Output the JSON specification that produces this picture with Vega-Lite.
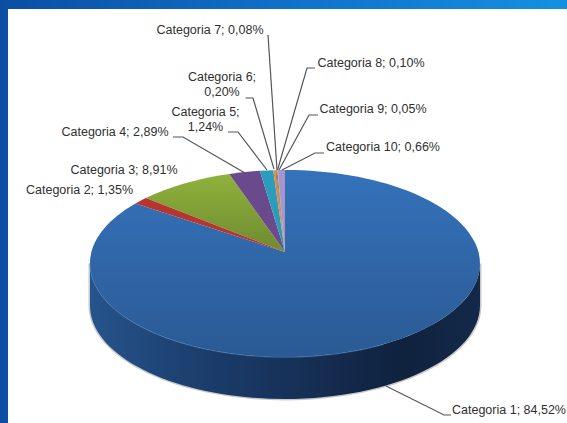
{
"$schema":"https://vega.github.io/schema/vega-lite/v6.json",
"width":567,"height":423,"padding":0,"autosize":"none",
"background":"#ffffff",
"config":{"view":{"stroke":null}},
"data":{"values":[
{"category":"Categoria 1","value":84.52,"label":"Categoria 1; 84,52%"},
{"category":"Categoria 2","value":1.35,"label":"Categoria 2; 1,35%"},
{"category":"Categoria 3","value":8.91,"label":"Categoria 3; 8,91%"},
{"category":"Categoria 4","value":2.89,"label":"Categoria 4; 2,89%"},
{"category":"Categoria 5","value":1.24,"label":"Categoria 5;\n1,24%"},
{"category":"Categoria 6","value":0.20,"label":"Categoria 6;\n0,20%"},
{"category":"Categoria 7","value":0.08,"label":"Categoria 7; 0,08%"},
{"category":"Categoria 8","value":0.10,"label":"Categoria 8; 0,10%"},
{"category":"Categoria 9","value":0.05,"label":"Categoria 9; 0,05%"},
{"category":"Categoria 10","value":0.66,"label":"Categoria 10; 0,66%"}
]},
"transform":[
{"window":[{"op":"sum","field":"value","as":"cum"}],"frame":[null,0]},
{"calculate":"(datum.cum-datum.value)/100*2*PI","as":"a0"},
{"calculate":"datum.cum/100*2*PI","as":"a1"},
{"calculate":"round((193.5*sin(datum.a0)/(1+0.123*cos(datum.a0))+1.5)*100)/100","as":"x0"},
{"calculate":"round((-92*cos(datum.a0)/(1+0.123*cos(datum.a0))+40.5)*100)/100","as":"y0"},
{"calculate":"round((193.5*sin(datum.a1)/(1+0.123*cos(datum.a1))+1.5)*100)/100","as":"x1"},
{"calculate":"round((-92*cos(datum.a1)/(1+0.123*cos(datum.a1))+40.5)*100)/100","as":"y1"},
{"calculate":"'M1.5,40.5L'+datum.x0+','+datum.y0+'A195,93.5,0,'+(datum.a1-datum.a0>PI?1:0)+',1,'+datum.x1+','+datum.y1+'Z'","as":"wedge"},
{"calculate":"{'Categoria 1':509,'Categoria 2':79.5,'Categoria 3':124,'Categoria 4':115,'Categoria 5':205.5,'Categoria 6':222,'Categoria 7':210,'Categoria 8':371,'Categoria 9':373,'Categoria 10':383}[datum.category]","as":"labelPosX"},
{"calculate":"{'Categoria 1':410,'Categoria 2':190,'Categoria 3':170,'Categoria 4':132,'Categoria 5':112,'Categoria 6':77,'Categoria 7':30,'Categoria 8':63,'Categoria 9':109,'Categoria 10':147}[datum.category]","as":"labelPosY"}
],
"layer":[
{"transform":[{"filter":"datum.category==='Categoria 1'"}],
 "mark":{"type":"rect","fill":{"gradient":"linear","x1":0,"x2":1,"y1":0,"y2":0,"stops":[{"offset":0,"color":"#0a4fa3"},{"offset":0.5,"color":"#1070c8"},{"offset":1,"color":"#1590e0"}]}},
 "encoding":{}},
{"transform":[{"filter":"datum.category==='Categoria 1'"}],
 "mark":{"type":"point","filled":true,"opacity":1,"fill":"#ffffff","size":4,"shape":"M-275.5,-202.5H283.5V211.5H-275.5Z"},
 "encoding":{}},
{"transform":[{"filter":"datum.category==='Categoria 1'"}],
 "mark":{"type":"point","filled":false,"opacity":0.45,"stroke":"#8a8a8a","strokeWidth":3,"size":4,"shape":"M-193.5,52A195,93.5,0,0,0,196.5,52L196.5,94A195,93.5,0,0,1,-193.5,94Z"},
 "encoding":{}},
{"transform":[{"filter":"datum.category==='Categoria 1'"}],
 "mark":{"type":"point","filled":true,"opacity":1,"size":4,"shape":"M-193.5,52A195,93.5,0,0,0,196.5,52L196.5,94A195,93.5,0,0,1,-193.5,94Z",
  "fill":{"gradient":"linear","x1":0,"x2":1,"y1":0,"y2":0,"stops":[{"offset":0,"color":"#26548c"},{"offset":0.25,"color":"#1c4070"},{"offset":0.55,"color":"#162f55"},{"offset":0.8,"color":"#0f223e"},{"offset":1,"color":"#14294a"}]}},
 "encoding":{}},
{"transform":[{"filter":"datum.category==='Categoria 1'"}],
 "mark":{"type":"point","filled":true,"opacity":1,"size":4,
  "fill":{"gradient":"linear","x1":0,"x2":0,"y1":0,"y2":1,"stops":[{"offset":0,"color":"#3572bb"},{"offset":1,"color":"#2a5a94"}]}},
 "encoding":{"shape":{"field":"wedge","type":"nominal","scale":null,"legend":null}}},
{"transform":[{"filter":"datum.category==='Categoria 3'"}],
 "mark":{"type":"point","filled":true,"opacity":1,"size":4,
  "fill":{"gradient":"linear","x1":0,"x2":0,"y1":0,"y2":1,"stops":[{"offset":0,"color":"#90b23c"},{"offset":1,"color":"#6e8a30"}]}},
 "encoding":{"shape":{"field":"wedge","type":"nominal","scale":null,"legend":null}}},
{"transform":[{"filter":"datum.category!=='Categoria 1'&&datum.category!=='Categoria 3'"}],
 "mark":{"type":"point","filled":true,"opacity":1,"size":4},
 "encoding":{
  "shape":{"field":"wedge","type":"nominal","scale":null,"legend":null},
  "color":{"field":"category","type":"nominal","legend":null,"scale":{
   "domain":["Categoria 2","Categoria 4","Categoria 5","Categoria 6","Categoria 7","Categoria 8","Categoria 9","Categoria 10"],
   "range":["#b5352f","#6a4a8c","#2c9cbd","#ee8a24","#4a78b0","#b85a58","#94ad55","#a595c8"]}}}},
{"transform":[{"filter":"datum.category==='Categoria 1'"}],
 "mark":{"type":"point","filled":false,"opacity":0.55,"stroke":"#4f86c8","strokeWidth":1,"size":4,"shape":"M-193.5,52A195,93.5,0,0,0,100,133"},
 "encoding":{}},
{"transform":[{"filter":"datum.category!=='Categoria 2'&&datum.category!=='Categoria 3'"}],
 "mark":{"type":"point","filled":false,"opacity":1,"size":4,"color":"#555555","strokeWidth":1.2},
 "encoding":{"shape":{"field":"category","type":"nominal","legend":null,"scale":{
   "domain":["Categoria 1","Categoria 4","Categoria 5","Categoria 6","Categoria 7","Categoria 8","Categoria 9","Categoria 10"],
   "range":["M102.5,174.5L160.5,203.5L167.5,203.5","M-110.5,-74.5L-100.5,-74.5L-38.5,-38.5","M-55.5,-79.5L-45.5,-79.5L-16.5,-41.5","M-38,-113.5L-30.5,-113.5L-9.5,-42.5","M-15.5,-176.5L-6.5,-41.5","M31.5,-143.5L23.5,-143.5L-6,-41.5","M34.5,-96.5L25.5,-96.5L-4.5,-41.5","M40.5,-58.5L31.5,-58.5L-1.5,-41.5"]}}}},
{"mark":{"type":"text","font":"Liberation Sans","fontSize":12.5,"color":"#303030","align":"center","baseline":"middle","lineBreak":"\n","lineHeight":14.5},
 "encoding":{
  "text":{"field":"label","type":"nominal"},
  "x":{"field":"labelPosX","type":"quantitative","axis":null,"scale":null},
  "y":{"field":"labelPosY","type":"quantitative","axis":null,"scale":null}
 }}
]
}
